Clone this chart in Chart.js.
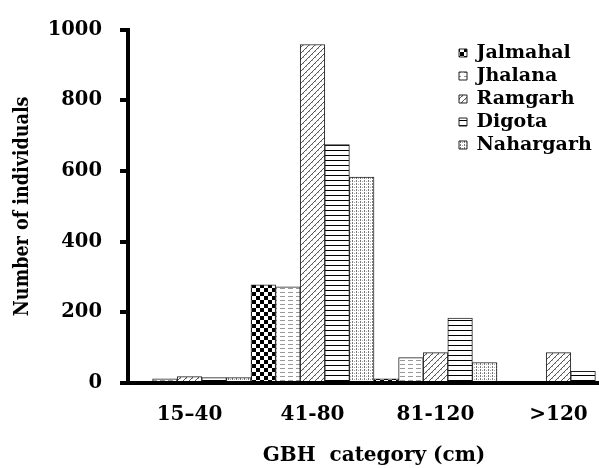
<!DOCTYPE html>
<html>
<head>
<meta charset="utf-8">
<script src="https://cdn.jsdelivr.net/npm/chart.js@4/dist/chart.umd.min.js"></script>
<style>
  html, body { margin: 0; padding: 0; background: #fff; width: 599px; height: 468px; overflow: hidden; }
</style>
</head>
<body>
<canvas id="chart" width="640" height="468"></canvas>
<script>
const categories = ["15\u201340", "41-80", "81-120", ">120"];
const jalmahal = [0, 278, 12, 0];
const jhalana = [12, 272, 72, 0];
const ramgarh = [18, 958, 86, 86];
const digota = [15, 675, 184, 33];
const nahargarh = [15, 583, 58, 0];
const yTicks = [0, 200, 400, 600, 800, 1000];

const serif = "'DejaVu Serif', 'Liberation Serif', serif";

// small repeating tiles used as bar fills
function pattern(w, h, paint) {
    const c = document.createElement("canvas");
    c.width = w;
    c.height = h;
    const g = c.getContext("2d");
    g.fillStyle = "#fff";
    g.fillRect(0, 0, w, h);
    paint(g);
    return g.createPattern(c, "repeat");
}

const checker = pattern(8, 8, (g) => {
    g.fillStyle = "#000";
    g.fillRect(0, 0, 4, 4);
    g.fillRect(4, 4, 4, 4);
});
const dashes = pattern(8, 4, (g) => {
    g.fillStyle = "#9a9a9a";
    g.fillRect(0, 0, 5, 1);
});
const diagonal = pattern(6, 6, (g) => {
    g.strokeStyle = "#555";
    g.lineWidth = 1;
    g.beginPath();
    g.moveTo(0, 6);
    g.lineTo(6, 0);
    g.stroke();
    g.fillStyle = "#b0b0b0";
    g.fillRect(0, 0, 1, 1);
    g.fillRect(3, 3, 1, 1);
});
const hlines = pattern(4, 5, (g) => {
    g.fillStyle = "#000";
    g.fillRect(0, 0, 4, 1);
});
const dots = pattern(4, 3, (g) => {
    g.fillStyle = "#777";
    g.fillRect(0, 0, 1, 2);
    g.fillStyle = "#aaa";
    g.fillRect(2, 1, 1, 1);
});

// keep the legend out of the layout and float it inside the plot
const floatLegend = {
    id: "floatLegend",
    afterInit(chart) {
        const legend = chart.legend;
        const fit = legend.fit;
        legend.fit = function () {
            fit.call(this);
            this.width = 0;
        };
    },
    afterLayout(chart) {
        const legend = chart.legend;
        legend.left = 455;
        legend.top = 39.5;
        legend.width = 160;
        legend.height = 200;
        legend.right = legend.left + legend.width;
        legend.bottom = legend.top + legend.height;
    },
};

Chart.defaults.font.family = serif;
Chart.defaults.font.weight = "bold";
Chart.defaults.color = "#000";

const series = [
    { label: "Jalmahal", data: jalmahal, backgroundColor: checker },
    { label: "Jhalana", data: jhalana, backgroundColor: dashes },
    { label: "Ramgarh", data: ramgarh, backgroundColor: diagonal },
    { label: "Digota", data: digota, backgroundColor: hlines },
    { label: "Nahargarh", data: nahargarh, backgroundColor: dots },
];

new Chart(document.getElementById("chart"), {
    type: "bar",
    data: {
        labels: categories,
        datasets: series.map((s) => ({
            ...s,
            borderColor: "#222",
            borderWidth: 1,
            barPercentage: 1,
            categoryPercentage: 1,
        })),
    },
    options: {
        responsive: false,
        animation: false,
        layout: { padding: { left: 0, right: 20, top: 20, bottom: 0 } },
        plugins: {
            tooltip: { enabled: false },
            legend: {
                position: "right",
                align: "start",
                labels: {
                    boxWidth: 8,
                    boxHeight: 8,
                    padding: 4,
                    font: { size: 19, weight: "bold" },
                    color: "#000",
                },
            },
        },
        scales: {
            x: {
                grid: { display: true, drawOnChartArea: false, drawTicks: false },
                border: { display: true, width: 4, color: "#000", z: 1 },
                ticks: { padding: 20, font: { size: 20, weight: "bold" }, maxRotation: 0 },
                title: {
                    display: true,
                    text: "GBH  category (cm)",
                    font: { size: 20, weight: "bold" },
                    padding: { top: 0, bottom: 0 },
                },
                afterFit: (scale) => { scale.height = 85; },
            },
            y: {
                min: 0,
                max: 1000,
                grid: {
                    drawOnChartArea: false,
                    drawTicks: true,
                    tickLength: 8,
                    tickWidth: 4,
                    lineWidth: 4,
                    tickColor: "#000",
                    color: "#000",
                },
                border: { display: true, width: 4, color: "#000", z: 1 },
                afterBuildTicks: (scale) => {
                    scale.ticks = yTicks.map((v) => ({ value: v }));
                },
                ticks: {
                    padding: 18,
                    font: { size: 19.5, weight: "bold" },
                    callback: (value) => String(value),
                },
                title: {
                    display: true,
                    text: "Number of individuals",
                    font: { family: "'DejaVu Serif Condensed', 'DejaVu Serif', serif", size: 19.5, weight: "bold" },
                    padding: { top: 11, bottom: 0 },
                },
                afterFit: (scale) => { scale.width = 128; },
            },
        },
    },
    plugins: [floatLegend],
});
</script>
</body>
</html>
